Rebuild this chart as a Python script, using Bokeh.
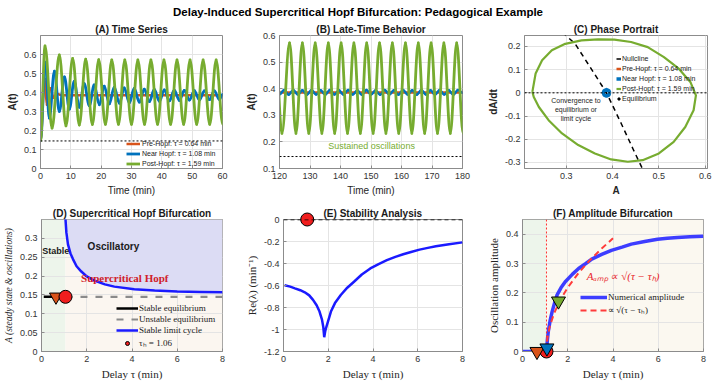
import numpy as np
from bokeh.plotting import figure
from bokeh.layouts import column, row
from bokeh.models import (ColumnDataSource, Range1d, FixedTicker, NumeralTickFormatter,
                          Legend, LegendItem, Span, BoxAnnotation)
from bokeh.core.properties import value
from bokeh.embed import file_html
from bokeh.resources import INLINE

SANS = "Liberation Sans"
SERIF = "Liberation Serif"
C_PRE, C_NEAR, C_POST = "#D95319", "#0072BD", "#77AC30"
RED = "#f01e1e"
LC_BLUE = "#1a1aff"

# ---------------- data ----------------
tau_H = 1.06
tau_cases = [0.64, 1.08, 1.59]          # pre / near / post Hopf delays
A_low = 0.145                           # lower equilibrium level
A_eq = 0.386                            # equilibrium reached by the trajectories

# (A) early time series: successive extrema (time, value)
pre_t = [0, 1.35, 2.1, 3.2, 4.4, 5.6, 7.0, 60]
pre_a = [0.145, 0.472, 0.335, 0.423, 0.372, 0.392, 0.386, 0.386]

near_t = [0, 1.6, 2.9, 4.6, 6.2, 7.9, 9.5, 11.1, 12.8, 14.4, 16.1, 17.7, 19.4, 21.0,
          22.7, 24.3, 26.0, 27.6, 29.3, 30.9, 32.6, 34.2, 35.9, 37.5, 39.2, 40.8,
          42.5, 44.1, 45.8, 47.4, 49.1, 50.7, 52.4, 54.0, 55.7, 57.3, 59.0, 60]
near_a = [0.145, 0.56, 0.265, 0.512, 0.30, 0.482, 0.312, 0.458, 0.322, 0.447, 0.33,
          0.44, 0.335, 0.433, 0.34, 0.428, 0.343, 0.424, 0.346, 0.421, 0.349, 0.418,
          0.352, 0.416, 0.354, 0.414, 0.356, 0.412, 0.358, 0.411, 0.36, 0.41, 0.361,
          0.409, 0.362, 0.408, 0.363, 0.39]

post_t = [0, 1.5, 3.8, 6.2, 8.4, 10.6, 12.8, 14.9, 17.1, 19.2, 21.4, 23.5, 25.7, 27.8,
          30.0, 32.1, 34.3, 36.4, 38.6, 40.7, 42.9, 45.0, 47.2, 49.3, 51.5, 53.6, 55.8,
          57.9, 60.1]
post_a = [0.145, 0.645, 0.212, 0.598, 0.224, 0.580, 0.229, 0.575, 0.231, 0.573, 0.232,
          0.572, 0.232, 0.572, 0.232, 0.572, 0.232, 0.572, 0.232, 0.572, 0.232, 0.572,
          0.232, 0.572, 0.232, 0.572, 0.232, 0.572, 0.232]

# (B) late time series
pre_late_t = [120, 180]
pre_late_a = [0.386, 0.386]

near_late_t = [120.0, 121.5, 123.0, 124.5, 126.0, 127.5, 129.0, 130.5, 132.0, 133.5,
               135.0, 136.5, 138.0, 139.5, 141.0, 142.5, 144.0, 145.5, 147.0, 148.5,
               150.0, 151.5, 153.0, 154.5, 156.0, 157.5, 159.0, 160.5, 162.0, 163.5,
               165.0, 166.5, 168.0, 169.5, 171.0, 172.5, 174.0, 175.5, 177.0, 178.5, 180.0]
near_late_a = [0.378, 0.395, 0.377, 0.395, 0.378, 0.394, 0.377, 0.395, 0.378, 0.394,
               0.377, 0.395, 0.378, 0.394, 0.377, 0.395, 0.378, 0.394, 0.377, 0.395,
               0.378, 0.394, 0.377, 0.395, 0.378, 0.394, 0.377, 0.395, 0.378, 0.394,
               0.377, 0.395, 0.378, 0.394, 0.377, 0.395, 0.378, 0.394, 0.377, 0.395, 0.385]

post_late_t = [118.6, 120.8, 123.3, 125.4, 127.5, 129.6, 131.7, 133.9, 136.0, 138.1,
               140.2, 142.3, 144.4, 146.5, 148.6, 150.7, 152.8, 154.9, 157.0, 159.1,
               161.3, 163.4, 165.5, 167.6, 169.7, 171.8, 173.9, 176.0, 178.1, 180.2]
post_late_a = [0.572, 0.232, 0.572, 0.232, 0.572, 0.232, 0.572, 0.232, 0.572, 0.232,
               0.572, 0.232, 0.572, 0.232, 0.572, 0.232, 0.572, 0.232, 0.572, 0.232,
               0.572, 0.232, 0.572, 0.232, 0.572, 0.232, 0.572, 0.232, 0.572, 0.232]

# (C) phase plane
cycle_A = [0.227, 0.234, 0.248, 0.269, 0.298, 0.333, 0.369, 0.404, 0.440, 0.476, 0.511,
           0.543, 0.568, 0.580, 0.575, 0.557, 0.532, 0.500, 0.465, 0.433, 0.397, 0.362,
           0.326, 0.291, 0.262, 0.241, 0.230, 0.227]
cycle_dA = [0.004, 0.083, 0.140, 0.183, 0.211, 0.226, 0.230, 0.229, 0.219, 0.197, 0.154,
            0.104, 0.047, -0.011, -0.075, -0.147, -0.211, -0.261, -0.290, -0.297, -0.287,
            -0.261, -0.225, -0.175, -0.118, -0.061, -0.018, 0.004]
ring_A = [0.394, 0.392, 0.387, 0.382, 0.380, 0.382, 0.387, 0.392, 0.394]
ring_dA = [0.0, 0.010, 0.014, 0.010, 0.0, -0.010, -0.014, -0.010, 0.0]
null_A = [0.292, 0.319, 0.352, 0.387, 0.419, 0.445, 0.470]
null_dA = [0.26, 0.212, 0.11, 0.0, -0.133, -0.245, -0.35]

# (D) bifurcation diagram
stable_tau = [0.1, tau_H]
unstable_tau = [tau_H, 8.0]
lc_tau = [1.05, 1.1, 1.17, 1.28, 1.39, 1.55, 1.76, 2.0, 2.34, 2.8, 3.22, 4.1, 5.0, 6.0, 7.0, 8.0]
lc_A = [0.36, 0.315, 0.284, 0.26, 0.245, 0.226, 0.212, 0.199, 0.188, 0.178, 0.172,
        0.165, 0.162, 0.159, 0.158, 0.157]

# (E) leading eigenvalue
re_tau = [0.05, 0.3, 0.51, 0.75, 0.95, 1.15, 1.32, 1.48, 1.61, 1.72, 1.78, 1.82, 1.86,
          1.9, 2.0, 2.12, 2.3, 2.56, 2.85, 3.15, 3.5, 3.88, 4.25, 4.62, 5.0, 5.35, 5.7,
          6.08, 6.45, 6.81, 7.4, 8.0]
re_lam = [-0.598, -0.61, -0.626, -0.643, -0.662, -0.69, -0.731, -0.78, -0.837, -0.91,
          -0.98, -1.07, -1.02, -0.987, -0.92, -0.837, -0.76, -0.686, -0.62, -0.566,
          -0.50, -0.445, -0.405, -0.37, -0.34, -0.316, -0.295, -0.274, -0.258, -0.244,
          -0.225, -0.208]

# (F) oscillation amplitude
amp_tau = [0, 0.5, 1.0, 1.06, 1.1, 1.14, 1.22, 1.31, 1.42, 1.53, 1.7, 1.89, 2.2, 2.48,
           2.8, 3.06, 3.5, 3.93, 4.4, 4.81, 5.4, 5.97, 6.4, 6.85, 7.4, 7.99]
amp_val = [0, 0, 0, 0, 0.04, 0.068, 0.105, 0.136, 0.166, 0.193, 0.217, 0.238, 0.263,
           0.283, 0.300, 0.315, 0.331, 0.345, 0.356, 0.366, 0.375, 0.383, 0.386, 0.389,
           0.391, 0.393]
fit_tau = [1.06, 1.1, 1.2, 1.4, 1.7, 2.0, 2.5, 3.0, 3.5, 4.0]
fit_val = [0, 0.045, 0.084, 0.131, 0.18, 0.218, 0.27, 0.313, 0.351, 0.386]
case_amp = [0.0, 0.012, 0.172]


# ---------------- helpers ----------------
def wave_source(ts, ys, k=0.36):
    """Smooth curve through successive extrema: cubic pieces with flat tangents."""
    t = np.asarray(ts, float)
    y = np.asarray(ys, float)
    dt = np.diff(t)
    return ColumnDataSource(dict(x0=t[:-1], y0=y[:-1], x1=t[1:], y1=y[1:],
                                 cx0=t[:-1] + k * dt, cy0=y[:-1],
                                 cx1=t[1:] - k * dt, cy1=y[1:]))


def wave(p, ts, ys, color, width):
    p.bezier(x0="x0", y0="y0", x1="x1", y1="y1", cx0="cx0", cy0="cy0",
             cx1="cx1", cy1="cy1", source=wave_source(ts, ys),
             line_color=color, line_width=width, line_cap="round")
    # line swatch used by the legend (nothing drawn in the plot area)
    return p.line(x=[np.nan], y=[np.nan], line_color=color, line_width=width)


def panel(w, h, xr, yr, title, borders, xticks, yticks):
    bl, br, bt, bb = borders
    p = figure(width=w, height=h, x_range=Range1d(*xr), y_range=Range1d(*yr),
               output_backend="svg", toolbar_location=None,
               min_border_left=bl, min_border_right=br,
               min_border_top=bt, min_border_bottom=bb)
    p.title.text = title
    p.title.align = "center"
    p.title.text_font = SANS
    p.title.text_font_size = "10px"
    p.title.text_font_style = "bold"
    p.title.text_color = "#1a1a1a"
    p.title.standoff = 2
    p.title.offset = 0
    p.xaxis.ticker = FixedTicker(ticks=xticks)
    p.yaxis.ticker = FixedTicker(ticks=yticks)
    for ax in p.axis:
        ax.formatter = NumeralTickFormatter(format="0.[00]")
        ax.major_label_text_font = SANS
        ax.major_label_text_font_size = "9px"
        ax.major_label_text_color = "#333333"
        ax.axis_label_text_font = SANS
        ax.axis_label_text_font_size = "10px"
        ax.axis_label_text_font_style = "normal"
        ax.axis_label_text_color = "#262626"
        ax.major_tick_in = 3
        ax.major_tick_out = 0
        ax.minor_tick_in = 0
        ax.minor_tick_out = 0
        ax.axis_line_color = "#8c8c8c"
        ax.major_tick_line_color = "#8c8c8c"
        ax.major_label_standoff = 4
        ax.axis_label_standoff = 3
    p.grid.grid_line_color = "#e4e4e4"
    p.outline_line_color = "#8c8c8c"
    p.background_fill_color = "white"
    p.border_fill_color = "white"
    return p


def legend(items, loc, font, size, gw, gh, spacing, standoff=2):
    return Legend(items=items, location=loc, border_line_alpha=0,
                  background_fill_alpha=0, label_text_font=font,
                  label_text_font_size=size, label_text_color="#1a1a1a",
                  glyph_width=gw, glyph_height=gh, label_height=gh,
                  spacing=spacing, padding=0, margin=0, label_standoff=standoff)


case_labels = [f"Pre-Hopf: τ = {tau_cases[0]:.2f} min",
               f"Near Hopf: τ = {tau_cases[1]:.2f} min",
               f"Post-Hopf: τ = {tau_cases[2]:.2f} min"]

# ---------------- suptitle ----------------
top = figure(width=715, height=20, x_range=Range1d(0, 1), y_range=Range1d(0, 1),
             output_backend="svg", toolbar_location=None, min_border=0,
             x_axis_location=None, y_axis_location=None)
top.grid.visible = False
top.outline_line_color = None
top.text(x=[0.5], y=[0.42], text=["Delay-Induced Supercritical Hopf Bifurcation: Pedagogical Example"],
         text_font=value(SANS), text_font_size=value("11.5px"), text_font_style="bold",
         text_align="center", text_baseline="middle", text_color="#000000")

# ---------------- (A) ----------------
pA = panel(242, 183, (0, 60), (0, 0.7), "(A) Time Series", (40, 20, 15, 35),
           [0, 10, 20, 30, 40, 50, 60], [0, 0.1, 0.2, 0.3, 0.4, 0.5, 0.6])
pA.xaxis.axis_label = "Time (min)"
pA.yaxis.axis_label = "A(t)"
pA.yaxis.axis_label_text_font_style = "bold"
pA.add_layout(Span(location=A_low, dimension="width", line_color="black",
                   line_dash="2 2", line_width=1))
rA1 = wave(pA, pre_t, pre_a, C_PRE, 2.5)
rA2 = wave(pA, near_t, near_a, C_NEAR, 2.8)
rA3 = wave(pA, post_t, post_a, C_POST, 2.8)
pA.add_layout(legend([LegendItem(label=case_labels[i], renderers=[r])
                      for i, r in enumerate([rA1, rA2, rA3])],
                     (86, 0), SANS, "7px", 14, 9, 1, standoff=2))

# ---------------- (B) ----------------
pB = panel(242, 183, (120, 180), (0.1, 0.6), "(B) Late-Time Behavior", (37, 22, 15, 35),
           [120, 130, 140, 150, 160, 170, 180], [0.1, 0.2, 0.3, 0.4, 0.5, 0.6])
pB.xaxis.axis_label = "Time (min)"
pB.yaxis.axis_label = "A(t)"
pB.yaxis.axis_label_text_font_style = "bold"
pB.add_layout(Span(location=A_low, dimension="width", line_color="black",
                   line_dash="2 2", line_width=1))
wave(pB, pre_late_t, pre_late_a, C_PRE, 2.5)
wave(pB, near_late_t, near_late_a, C_NEAR, 2.5)
wave(pB, post_late_t, post_late_a, C_POST, 2.8)
pB.text(x=[150.2], y=[0.184], text=["Sustained oscillations"], text_font=value(SANS),
        text_font_size=value("9px"), text_color=C_POST, text_align="center",
        text_baseline="middle")

# ---------------- (C) ----------------
pC = panel(231, 183, (0.21, 0.605), (-0.326, 0.247), "(C) Phase Portrait", (37, 8, 15, 35),
           [0.3, 0.4, 0.5, 0.6], [-0.3, -0.2, -0.1, 0, 0.1, 0.2])
pC.xaxis.axis_label = "A"
pC.yaxis.axis_label = "dA/dt"
pC.xaxis.axis_label_text_font_style = "bold"
pC.yaxis.axis_label_text_font_style = "bold"
pC.add_layout(Span(location=0, dimension="width", line_color="black",
                   line_dash="2 2", line_width=1))
rC0 = pC.line(null_A, null_dA, line_color="black", line_width=1.5, line_dash="5 4")
rC3 = pC.line(cycle_A, cycle_dA, line_color=C_POST, line_width=2.2, line_join="round")
rC1 = pC.line([A_eq, A_eq], [0, 0], line_color=C_PRE, line_width=2.5)
rC2 = pC.line(ring_A, ring_dA, line_color=C_NEAR, line_width=3.5, line_join="round")
rC4 = pC.scatter([A_low], [0], marker="square", size=6, fill_color="black", line_color="black")
pC.text(x=[0.321], y=[-0.072], text=["Convergence to\nequilibrium or\nlimit cycle"],
        text_font=value(SANS), text_font_size=value("7px"), text_color="#262626",
        text_align="center", text_baseline="middle", text_line_height=1.25)
pC.add_layout(legend([LegendItem(label="Nullcline", renderers=[rC0]),
                      LegendItem(label=case_labels[0], renderers=[rC1]),
                      LegendItem(label=case_labels[1], renderers=[rC2]),
                      LegendItem(label=case_labels[2], renderers=[rC3]),
                      LegendItem(label="Equilibrium", renderers=[rC4])],
                     (92, 65), SANS, "7px", 5, 9, 1, standoff=1))

# ---------------- (D) ----------------
pD = panel(242, 179, (0, 8), (0, 0.35), "(D) Supercritical Hopf Bifurcation", (40, 20, 16, 29),
           [0, 2, 4, 6, 8], [0, 0.05, 0.1, 0.15, 0.2, 0.25, 0.3])
pD.xaxis.axis_label = "Delay τ (min)"
pD.yaxis.axis_label = "A (steady state & oscillations)"
for ax in pD.axis:
    ax.axis_label_text_font = SERIF
pD.xaxis.axis_label_text_font_size = "11px"
pD.yaxis.axis_label_text_font_size = "9.5px"
pD.yaxis.axis_label_text_font_style = "italic"
pD.add_layout(BoxAnnotation(right=tau_H, fill_color="#edf5eb", fill_alpha=1,
                            line_alpha=0, level="image"))
pD.add_layout(BoxAnnotation(left=tau_H, fill_color="#fbf6f0", fill_alpha=1,
                            line_alpha=0, level="image"))
pD.varea(x=lc_tau, y1=lc_A, y2=0.35, fill_color="#dcdcf4", fill_alpha=1)
rD1 = pD.line(stable_tau, [A_low, A_low], line_color="black", line_width=2.5)
rD2 = pD.line(unstable_tau, [A_low, A_low], line_color="#8a8a8a", line_width=2.2,
              line_dash="7 8")
rD3 = pD.line(lc_tau, lc_A, line_color=LC_BLUE, line_width=2.5)
pD.scatter([tau_cases[0]], [A_low], marker="inverted_triangle", size=13,
           fill_color=C_PRE, line_color="black", line_width=1)
rD4 = pD.scatter([tau_H], [A_low], marker="circle", size=13, fill_color=RED,
                 line_color="black", line_width=1)
pD.text(x=[0.03], y=[0.267], text=["Stable"], text_font=value(SANS),
        text_font_size=value("9px"), text_font_style="bold", text_color="#1a1a1a",
        text_align="left", text_baseline="middle")
pD.text(x=[3.18], y=[0.278], text=["Oscillatory"], text_font=value(SANS),
        text_font_size=value("10px"), text_font_style="bold", text_color="#1a1a1a",
        text_align="center", text_baseline="middle")
pD.text(x=[3.68], y=[0.194], text=["Supercritical Hopf"], text_font=value(SERIF),
        text_font_size=value("11px"), text_font_style="bold", text_color="#d0202a",
        text_align="center", text_baseline="middle")
pD.add_layout(legend([LegendItem(label="Stable equilibrium", renderers=[rD1]),
                      LegendItem(label="Unstable equilibrium", renderers=[rD2]),
                      LegendItem(label="Stable limit cycle", renderers=[rD3]),
                      LegendItem(label=f"τₕ = {tau_H:.2f}", renderers=[rD4])],
                     (75, 2), SERIF, "9px", 22, 10, 1, standoff=1))

# ---------------- (E) ----------------
pE = panel(242, 179, (0, 8), (-1.2, 0), "(E) Stability Analysis", (38, 22, 16, 29),
           [0, 2, 4, 6, 8], [-1.2, -1, -0.8, -0.6, -0.4, -0.2, 0])
pE.xaxis.axis_label = "Delay τ (min)"
pE.yaxis.axis_label = "Re(λ) (min⁻¹)"
for ax in pE.axis:
    ax.axis_label_text_font = SERIF
    ax.axis_label_text_font_size = "11px"
pE.line(re_tau, re_lam, line_color=LC_BLUE, line_width=2.5)
pE.scatter([tau_H], [0], marker="circle", size=13, fill_color=RED,
           line_color="black", line_width=1, level="overlay")
pE.add_layout(Span(location=0, dimension="width", line_color="black",
                   line_dash="4 3", line_width=1.5, level="overlay"))

# ---------------- (F) ----------------
pF = panel(231, 179, (0, 8), (0, 0.45), "(F) Amplitude Bifurcation", (36, 12, 16, 29),
           [0, 2, 4, 6, 8], [0, 0.1, 0.2, 0.3, 0.4])
pF.xaxis.axis_label = "Delay τ (min)"
pF.yaxis.axis_label = "Oscillation amplitude"
for ax in pF.axis:
    ax.axis_label_text_font = SERIF
    ax.axis_label_text_font_size = "11px"
pF.add_layout(BoxAnnotation(right=tau_H, fill_color="#edf5eb", fill_alpha=1,
                            line_alpha=0, level="image"))
pF.add_layout(BoxAnnotation(left=tau_H, fill_color="#fbf8f0", fill_alpha=1,
                            line_alpha=0, level="image"))
pF.add_layout(Span(location=tau_H, dimension="height", line_color="#ff3030",
                   line_dash="2 2", line_width=1))
rF1 = pF.line(amp_tau, amp_val, line_color="#3d3dff", line_width=3.5)
rF2 = pF.line(fit_tau, fit_val, line_color="#ff3b3b", line_width=2, line_dash="6 4")
pF.scatter([tau_H], [0], marker="circle", size=13, fill_color=RED,
           line_color="black", line_width=1, level="overlay")
pF.scatter(tau_cases, case_amp, marker="inverted_triangle", size=14,
           fill_color=[C_PRE, C_NEAR, C_POST], line_color="black", line_width=1,
           level="overlay")
pF.text(x=[2.84], y=[0.256], text=["Aₐₘₚ ∝ √(τ − τₕ)"], text_font=value(SERIF),
        text_font_size=value("11px"), text_font_style="italic", text_color="#e8262b",
        text_align="left", text_baseline="middle")
pF.add_layout(legend([LegendItem(label="Numerical amplitude", renderers=[rF1]),
                      LegendItem(label="∝ √(τ − τₕ)", renderers=[rF2])],
                     (58, 35), SERIF, "9px", 27, 10, 1, standoff=1))

layout = column(top, row(pA, pB, pC), row(pD, pE, pF))
open("out.html", "w").write(file_html(layout, INLINE))
